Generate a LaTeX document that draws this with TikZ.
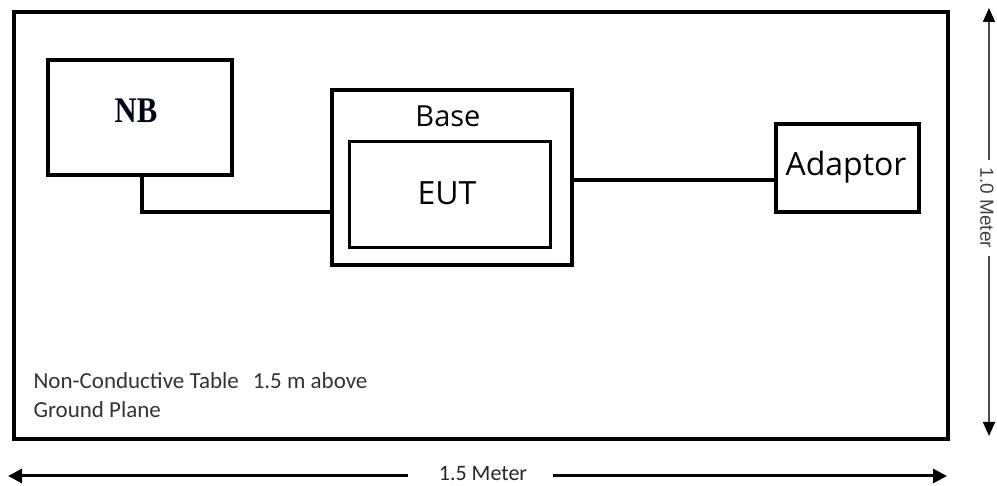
\documentclass[tikz,border=0pt]{standalone}
\usepackage{fontspec}
\setmainfont{Liberation Serif}
\newfontfamily\labfont{Open Sans}
\newfontfamily\notefont{Carlito}
\newfontfamily\dimfont{Liberation Sans}
\usetikzlibrary{arrows.meta}
\begin{document}
\begin{tikzpicture}[x=1pt,y=-1pt,
  box/.style={draw=black,line width=4pt,inner sep=0pt},
  wire/.style={draw=black,line width=3.5pt},
  dimarrow/.style={line width=3pt,-{Triangle[length=14pt,width=14pt]}},
  vdimarrow/.style={line width=1.5pt,black!70,-{Triangle[length=14pt,width=12pt,fill=black,color=black]}}
]
\useasboundingbox (0,0) rectangle (997,486);
% table
\node[box,minimum width=934,minimum height=427,anchor=north west] (table) at (12,10) {};
% NB
\node[box,minimum width=184,minimum height=115,anchor=north west] (nb) at (46,58) {};
\node[font=\bfseries\fontsize{36}{38}\selectfont,text=black!90!blue,xscale=0.85] (nbt) at (136,111) {NB};
% Base
\node[box,minimum width=240,minimum height=175,anchor=north west] (base) at (330,88) {};
\node[font=\labfont\fontsize{29}{30}\selectfont] (baset) at (448,116) {Base};
\node[draw=black,line width=3pt,minimum width=201,minimum height=106,anchor=north west] (eut) at (348,140) {};
\node[font=\labfont\fontsize{32}{34}\selectfont] (eutt) at (447,193) {EUT};
% Adaptor
\node[box,minimum width=143,minimum height=88,anchor=north west] (ad) at (774,122) {};
\node[font=\labfont\fontsize{32}{34}\selectfont] (adt) at (846,167) {Adaptor};
% connectors
\coordinate (c1) at (142,212);
\draw[wire] (nb.south -| c1) -- (c1) -- (c1 -| base.west);
\draw[wire] (base.east |- 0,180) -- (ad.west |- 0,180);
% note
\node[font=\notefont\fontsize{23}{24}\selectfont,text=black!80,anchor=west] (n1) at (30,381) {Non-Conductive Table\hspace{14pt}1.5 m above};
\node[font=\notefont\fontsize{23}{24}\selectfont,text=black!80,anchor=west] (n2) at (30,410) {Ground Plane};
% bottom dimension
\node[font=\notefont\fontsize{22}{24}\selectfont,text=black!85] (w) at (483,474) {1.5 Meter};
\coordinate (wl) at (8,476);
\coordinate (wr) at (947,476);
\draw[dimarrow] (408,476) -- (wl);
\draw[dimarrow] (553,476) -- (wr);
% right dimension
\node[font=\dimfont\fontsize{19}{20}\selectfont,text=black!75,rotate=-90] (h) at (987,208) {1.0 Meter};
\coordinate (ht) at (989,8);
\coordinate (hb) at (989,436);
\draw[vdimarrow] (989,160) -- (ht);
\draw[vdimarrow] (989,256) -- (hb);
\end{tikzpicture}
\end{document}
